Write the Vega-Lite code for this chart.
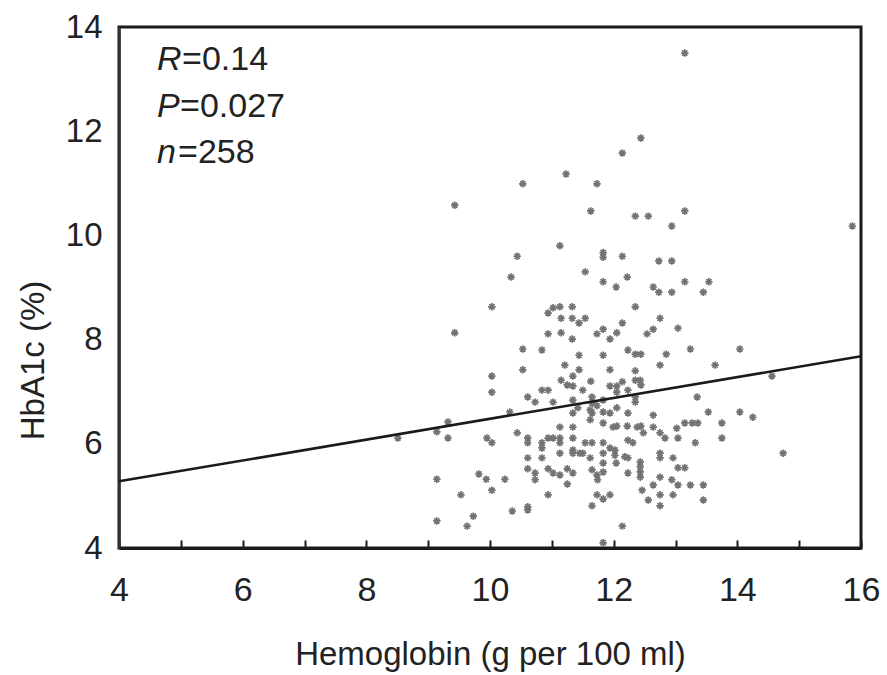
{
  "$schema": "https://vega.github.io/schema/vega-lite/v6.json",
  "width": 742,
  "height": 521,
  "autosize": "none",
  "padding": {"left": 119, "top": 27, "right": 26, "bottom": 127},
  "background": "white",
  "config": {
    "font": "Liberation Sans",
    "view": {"stroke": "#1a1a1a", "strokeWidth": 3},
    "axis": {"grid": false, "labelFont": "Liberation Sans", "titleFont": "Liberation Sans", "labelColor": "#222", "titleColor": "#222", "titleFontWeight": "normal"}
  },
  "datasets": {
    "pts": [
      {"hb":13.15,"a1c":13.50},{"hb":12.44,"a1c":11.87},{"hb":12.14,"a1c":11.58},{"hb":11.23,"a1c":11.18},{"hb":10.53,"a1c":10.99},
      {"hb":11.73,"a1c":10.99},{"hb":9.43,"a1c":10.58},{"hb":11.63,"a1c":10.47},{"hb":12.35,"a1c":10.37},{"hb":12.56,"a1c":10.37},
      {"hb":13.15,"a1c":10.47},{"hb":12.94,"a1c":10.18},{"hb":15.86,"a1c":10.18},{"hb":11.13,"a1c":9.80},{"hb":10.44,"a1c":9.60},
      {"hb":11.83,"a1c":9.67},{"hb":11.83,"a1c":9.58},{"hb":12.14,"a1c":9.60},{"hb":12.73,"a1c":9.51},{"hb":12.94,"a1c":9.51},
      {"hb":10.34,"a1c":9.20},{"hb":11.54,"a1c":9.30},{"hb":12.22,"a1c":9.20},{"hb":11.83,"a1c":9.11},{"hb":12.04,"a1c":9.01},
      {"hb":12.64,"a1c":9.01},{"hb":12.73,"a1c":8.91},{"hb":12.94,"a1c":8.91},{"hb":13.15,"a1c":9.11},{"hb":13.45,"a1c":8.91},
      {"hb":13.54,"a1c":9.11},{"hb":10.03,"a1c":8.63},{"hb":9.43,"a1c":8.13},{"hb":11.02,"a1c":8.61},{"hb":11.13,"a1c":8.63},
      {"hb":11.33,"a1c":8.63},{"hb":10.94,"a1c":8.51},{"hb":11.15,"a1c":8.41},{"hb":11.33,"a1c":8.41},{"hb":11.44,"a1c":8.32},
      {"hb":11.54,"a1c":8.41},{"hb":12.35,"a1c":8.63},{"hb":12.75,"a1c":8.41},{"hb":12.14,"a1c":8.32},{"hb":10.94,"a1c":8.11},
      {"hb":11.15,"a1c":8.13},{"hb":11.33,"a1c":8.01},{"hb":11.73,"a1c":8.11},{"hb":11.83,"a1c":8.20},{"hb":11.94,"a1c":8.01},
      {"hb":12.05,"a1c":8.13},{"hb":12.54,"a1c":8.11},{"hb":12.64,"a1c":8.20},{"hb":13.04,"a1c":8.22},{"hb":10.53,"a1c":7.82},
      {"hb":10.84,"a1c":7.80},{"hb":11.44,"a1c":7.70},{"hb":11.83,"a1c":7.70},{"hb":12.23,"a1c":7.80},{"hb":12.35,"a1c":7.72},
      {"hb":12.44,"a1c":7.72},{"hb":12.85,"a1c":7.72},{"hb":13.24,"a1c":7.82},{"hb":14.04,"a1c":7.82},{"hb":11.21,"a1c":7.51},
      {"hb":10.53,"a1c":7.42},{"hb":11.44,"a1c":7.42},{"hb":11.94,"a1c":7.42},{"hb":12.35,"a1c":7.40},{"hb":12.75,"a1c":7.51},
      {"hb":13.64,"a1c":7.51},{"hb":10.03,"a1c":7.30},{"hb":11.34,"a1c":7.30},{"hb":11.15,"a1c":7.22},{"hb":11.25,"a1c":7.13},
      {"hb":11.34,"a1c":7.11},{"hb":11.63,"a1c":7.20},{"hb":11.94,"a1c":7.11},{"hb":12.05,"a1c":7.11},{"hb":12.14,"a1c":7.19},
      {"hb":12.35,"a1c":7.22},{"hb":12.44,"a1c":7.13},{"hb":12.43,"a1c":7.22},{"hb":14.56,"a1c":7.30},{"hb":10.03,"a1c":6.99},
      {"hb":10.84,"a1c":7.03},{"hb":10.94,"a1c":7.03},{"hb":11.50,"a1c":7.03},{"hb":12.05,"a1c":6.99},{"hb":12.23,"a1c":7.03},
      {"hb":12.35,"a1c":6.90},{"hb":13.35,"a1c":6.90},{"hb":10.61,"a1c":6.90},{"hb":10.73,"a1c":6.80},{"hb":11.02,"a1c":6.80},
      {"hb":11.34,"a1c":6.84},{"hb":11.65,"a1c":6.90},{"hb":11.83,"a1c":6.84},{"hb":11.42,"a1c":6.69},{"hb":11.65,"a1c":6.78},
      {"hb":11.73,"a1c":6.73},{"hb":10.32,"a1c":6.61},{"hb":11.34,"a1c":6.59},{"hb":11.65,"a1c":6.59},{"hb":11.83,"a1c":6.61},
      {"hb":11.94,"a1c":6.59},{"hb":12.05,"a1c":6.69},{"hb":12.23,"a1c":6.59},{"hb":12.35,"a1c":6.80},{"hb":12.64,"a1c":6.55},
      {"hb":13.53,"a1c":6.61},{"hb":14.04,"a1c":6.61},{"hb":14.25,"a1c":6.51},{"hb":9.32,"a1c":6.42},{"hb":11.13,"a1c":6.32},
      {"hb":11.83,"a1c":6.40},{"hb":12.05,"a1c":6.34},{"hb":12.22,"a1c":6.34},{"hb":12.44,"a1c":6.34},{"hb":12.64,"a1c":6.32},
      {"hb":13.02,"a1c":6.30},{"hb":13.15,"a1c":6.40},{"hb":13.27,"a1c":6.40},{"hb":13.36,"a1c":6.40},{"hb":13.75,"a1c":6.40},
      {"hb":11.34,"a1c":6.32},{"hb":11.62,"a1c":6.46},{"hb":9.14,"a1c":6.23},{"hb":8.51,"a1c":6.11},{"hb":9.32,"a1c":6.11},
      {"hb":9.95,"a1c":6.11},{"hb":10.03,"a1c":6.02},{"hb":10.44,"a1c":6.21},{"hb":10.61,"a1c":6.11},{"hb":10.61,"a1c":6.02},
      {"hb":10.84,"a1c":6.02},{"hb":10.84,"a1c":5.92},{"hb":10.94,"a1c":6.11},{"hb":11.02,"a1c":6.11},{"hb":11.13,"a1c":6.11},
      {"hb":11.13,"a1c":6.02},{"hb":11.34,"a1c":6.11},{"hb":11.54,"a1c":6.02},{"hb":11.65,"a1c":6.02},{"hb":11.83,"a1c":6.02},
      {"hb":11.94,"a1c":5.92},{"hb":12.02,"a1c":5.88},{"hb":12.23,"a1c":6.07},{"hb":12.31,"a1c":6.02},{"hb":12.48,"a1c":6.21},
      {"hb":12.75,"a1c":6.21},{"hb":12.83,"a1c":6.11},{"hb":13.04,"a1c":6.11},{"hb":13.32,"a1c":6.02},{"hb":13.75,"a1c":6.11},
      {"hb":11.34,"a1c":5.88},{"hb":11.34,"a1c":5.82},{"hb":11.13,"a1c":5.82},{"hb":11.45,"a1c":5.82},{"hb":11.83,"a1c":5.82},
      {"hb":12.02,"a1c":5.78},{"hb":12.18,"a1c":5.75},{"hb":12.23,"a1c":5.73},{"hb":12.43,"a1c":5.65},{"hb":12.43,"a1c":5.56},
      {"hb":12.43,"a1c":5.46},{"hb":12.75,"a1c":5.82},{"hb":12.75,"a1c":5.73},{"hb":12.96,"a1c":5.73},{"hb":14.74,"a1c":5.82},
      {"hb":10.61,"a1c":5.73},{"hb":10.84,"a1c":5.73},{"hb":11.62,"a1c":5.73},{"hb":11.83,"a1c":5.63},{"hb":12.04,"a1c":5.63},
      {"hb":10.61,"a1c":5.52},{"hb":10.73,"a1c":5.44},{"hb":10.73,"a1c":5.31},{"hb":10.94,"a1c":5.52},{"hb":11.02,"a1c":5.44},
      {"hb":11.13,"a1c":5.40},{"hb":11.25,"a1c":5.52},{"hb":11.34,"a1c":5.44},{"hb":11.25,"a1c":5.23},{"hb":11.65,"a1c":5.50},
      {"hb":11.73,"a1c":5.40},{"hb":11.83,"a1c":5.46},{"hb":12.23,"a1c":5.44},{"hb":12.43,"a1c":5.36},{"hb":12.75,"a1c":5.36},
      {"hb":13.04,"a1c":5.54},{"hb":13.15,"a1c":5.54},{"hb":9.14,"a1c":5.32},{"hb":9.82,"a1c":5.42},{"hb":9.94,"a1c":5.32},
      {"hb":10.24,"a1c":5.32},{"hb":11.74,"a1c":5.31},{"hb":12.64,"a1c":5.21},{"hb":12.94,"a1c":5.31},{"hb":13.04,"a1c":5.21},
      {"hb":13.24,"a1c":5.21},{"hb":13.45,"a1c":5.21},{"hb":12.46,"a1c":5.11},{"hb":10.03,"a1c":5.11},{"hb":9.53,"a1c":5.02},
      {"hb":10.94,"a1c":5.02},{"hb":11.73,"a1c":5.02},{"hb":11.94,"a1c":5.02},{"hb":11.83,"a1c":4.94},{"hb":12.56,"a1c":4.92},
      {"hb":12.75,"a1c":5.02},{"hb":12.96,"a1c":5.02},{"hb":13.45,"a1c":4.92},{"hb":10.61,"a1c":4.79},{"hb":10.61,"a1c":4.73},
      {"hb":11.65,"a1c":4.81},{"hb":12.75,"a1c":4.81},{"hb":10.36,"a1c":4.71},{"hb":9.73,"a1c":4.61},{"hb":9.14,"a1c":4.52},
      {"hb":9.63,"a1c":4.42},{"hb":12.14,"a1c":4.42},{"hb":11.83,"a1c":4.10},{"hb":12.38,"a1c":6.32},{"hb":11.50,"a1c":5.82},
      {"hb":11.99,"a1c":6.32},{"hb":11.62,"a1c":6.65}
    ],
    "fit": [{"hb": 4, "a1c": 5.28}, {"hb": 16, "a1c": 7.68}]
  },
  "layer": [
    {
      "data": {"name": "pts"},
      "mark": {
        "type": "point",
        "shape": "M-1,0L1,0M0,-1L0,1M-0.7,-0.7L0.7,0.7M-0.7,0.7L0.7,-0.7",
        "filled": false, "stroke": "#737373", "strokeWidth": 1.7, "size": 56, "opacity": 1
      },
      "encoding": {
        "x": {
          "field": "hb", "type": "quantitative",
          "scale": {"domain": [4, 16], "nice": false, "zero": false},
          "axis": {
            "values": [4,5,6,7,8,9,10,11,12,13,14,15,16],
            "format": "d",
            "labelExpr": "datum.value % 2 === 0 ? datum.label : ''",
            "tickSize": -8, "tickWidth": 2, "tickColor": "#1a1a1a",
            "domainColor": "#1a1a1a", "domainWidth": 3,
            "labelFontSize": 34, "labelPadding": 33, "labelFlush": false,
            "title": "Hemoglobin (g per 100 ml)", "titleFontSize": 33,
            "titleBaseline": "alphabetic", "titleY": 116
          }
        },
        "y": {
          "field": "a1c", "type": "quantitative",
          "scale": {"domain": [4, 14], "nice": false, "zero": false},
          "axis": {
            "values": [4,6,8,10,12,14],
            "format": "d",
            "ticks": false, "labelPadding": 17,
            "domainColor": "#333", "domainWidth": 2.5,
            "labelFontSize": 33, "labelFlush": false,
            "title": "HbA1c (%)", "titleFontSize": 33,
            "titleAngle": -90, "titleX": -86, "titleY": 333,
            "titleAlign": "center", "titleBaseline": "middle"
          }
        }
      }
    },
    {
      "data": {"name": "fit"},
      "mark": {"type": "line", "color": "#1a1a1a", "strokeWidth": 2.6},
      "encoding": {
        "x": {"field": "hb", "type": "quantitative"},
        "y": {"field": "a1c", "type": "quantitative"}
      }
    },
    {
      "data": {"values": [{"t": "R"}]},
      "mark": {"type": "text", "fontSize": 34, "fontStyle": "italic", "align": "left", "baseline": "alphabetic", "color": "#222"},
      "encoding": {"x": {"datum": 4.615, "type": "quantitative"}, "y": {"datum": 13.17, "type": "quantitative"}, "text": {"field": "t"}}
    },
    {
      "data": {"values": [{"t": "=0.14"}]},
      "mark": {"type": "text", "fontSize": 34, "align": "left", "baseline": "alphabetic", "dx": 25, "color": "#222"},
      "encoding": {"x": {"datum": 4.615, "type": "quantitative"}, "y": {"datum": 13.17, "type": "quantitative"}, "text": {"field": "t"}}
    },
    {
      "data": {"values": [{"t": "P"}]},
      "mark": {"type": "text", "fontSize": 34, "fontStyle": "italic", "align": "left", "baseline": "alphabetic", "color": "#222"},
      "encoding": {"x": {"datum": 4.615, "type": "quantitative"}, "y": {"datum": 12.27, "type": "quantitative"}, "text": {"field": "t"}}
    },
    {
      "data": {"values": [{"t": "=0.027"}]},
      "mark": {"type": "text", "fontSize": 34, "align": "left", "baseline": "alphabetic", "dx": 23, "color": "#222"},
      "encoding": {"x": {"datum": 4.615, "type": "quantitative"}, "y": {"datum": 12.27, "type": "quantitative"}, "text": {"field": "t"}}
    },
    {
      "data": {"values": [{"t": "n"}]},
      "mark": {"type": "text", "fontSize": 34, "fontStyle": "italic", "align": "left", "baseline": "alphabetic", "color": "#222"},
      "encoding": {"x": {"datum": 4.615, "type": "quantitative"}, "y": {"datum": 11.39, "type": "quantitative"}, "text": {"field": "t"}}
    },
    {
      "data": {"values": [{"t": "=258"}]},
      "mark": {"type": "text", "fontSize": 34, "align": "left", "baseline": "alphabetic", "dx": 21, "color": "#222"},
      "encoding": {"x": {"datum": 4.615, "type": "quantitative"}, "y": {"datum": 11.39, "type": "quantitative"}, "text": {"field": "t"}}
    }
  ]
}
